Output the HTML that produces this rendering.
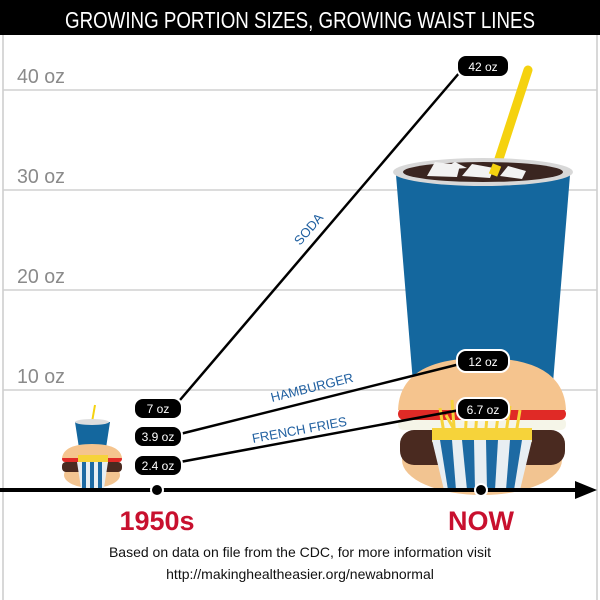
<!DOCTYPE html>
<html><head><style>html,body{margin:0;padding:0;background:#fff}svg{display:block}</style></head>
<body>
<svg width="600" height="600" viewBox="0 0 600 600" xmlns="http://www.w3.org/2000/svg" font-family="Liberation Sans, sans-serif">
<rect x="0" y="0" width="600" height="35" fill="#000"/>
<text x="300" y="28" text-anchor="middle" fill="#fff" font-size="23" textLength="470" lengthAdjust="spacingAndGlyphs">GROWING PORTION SIZES, GROWING WAIST LINES</text>
<line x1="3" y1="35" x2="3" y2="600" stroke="#ccc" stroke-width="1.5"/>
<line x1="597" y1="35" x2="597" y2="600" stroke="#ccc" stroke-width="1.5"/>
<g stroke="#d0d0d0" stroke-width="1.5">
<line x1="3" y1="90" x2="597" y2="90"/><line x1="3" y1="190" x2="597" y2="190"/>
<line x1="3" y1="290" x2="597" y2="290"/><line x1="3" y1="390" x2="597" y2="390"/>
</g>
<g fill="#8a8a8a" font-size="20">
<text x="17" y="83" textLength="48" lengthAdjust="spacingAndGlyphs">40 oz</text>
<text x="17" y="183" textLength="48" lengthAdjust="spacingAndGlyphs">30 oz</text>
<text x="17" y="283" textLength="48" lengthAdjust="spacingAndGlyphs">20 oz</text>
<text x="17" y="383" textLength="48" lengthAdjust="spacingAndGlyphs">10 oz</text>
</g>
<!-- big cup -->
<line x1="528" y1="70" x2="497" y2="165" stroke="#f5d20f" stroke-width="9" stroke-linecap="round"/>
<polygon points="396,175 570,175 552,395 414,395" fill="#14679e"/>
<ellipse cx="483" cy="172" rx="90" ry="14" fill="#d8d8d8"/>
<ellipse cx="483" cy="172" rx="80" ry="10" fill="#3a2520"/>
<path d="M427,176 l8,-14 l25,3 l-3,12z M462,176 l10,-12 l22,4 l-4,10z M500,176 l8,-10 l18,5 l-4,8z M440,170 l15,-8 l12,6z" fill="#f2f2f2"/>
<line x1="497" y1="165" x2="493" y2="175" stroke="#f5d20f" stroke-width="9"/>
<!-- burger -->
<ellipse cx="482" cy="460" rx="80" ry="35" fill="#f2c491"/>
<rect x="400" y="430" width="165" height="35" rx="14" fill="#4a2a20"/>
<rect x="398" y="418" width="168" height="12" rx="5" fill="#f5f5e8"/>
<rect x="398" y="408" width="168" height="12" rx="6" fill="#e02a26"/>
<path d="M398,410 Q400,358 482,358 Q564,358 566,410 Z" fill="#f5c48e"/>
<!-- fries -->
<g stroke="#f6d33a" stroke-width="3">
<line x1="445" y1="440" x2="440" y2="408"/><line x1="455" y1="440" x2="452" y2="400"/><line x1="465" y1="440" x2="467" y2="404"/>
<line x1="475" y1="440" x2="478" y2="398"/><line x1="485" y1="440" x2="488" y2="405"/><line x1="495" y1="440" x2="500" y2="400"/>
<line x1="505" y1="440" x2="510" y2="406"/><line x1="515" y1="440" x2="520" y2="410"/><line x1="460" y1="440" x2="446" y2="415"/>
</g>
<rect x="432" y="428" width="100" height="14" fill="#f6d33a"/>
<polygon points="432,440 532,440 520,490 444,490" fill="#e8eef2"/>
<g fill="#1d6aa3"><polygon points="440,440 452,440 456,490 448,490"/><polygon points="462,440 474,440 475,490 467,490"/><polygon points="486,440 498,440 495,490 487,490"/><polygon points="510,440 522,440 514,490 506,490"/></g>
<!-- small icons -->
<line x1="95" y1="405" x2="92" y2="422" stroke="#f5d20f" stroke-width="2"/>
<polygon points="75,422 110,422 106,448 79,448" fill="#14679e"/>
<ellipse cx="92" cy="422" rx="17" ry="3" fill="#ddd"/>
<ellipse cx="92" cy="475" rx="28" ry="13" fill="#f2c491"/>
<rect x="62" y="462" width="60" height="10" rx="4" fill="#4a2a20"/>
<rect x="62" y="456" width="60" height="6" rx="3" fill="#e02a26"/>
<path d="M62,458 Q64,444 92,444 Q120,444 122,458Z" fill="#f5c48e"/>
<rect x="78" y="455" width="30" height="8" fill="#f6d33a"/>
<polygon points="77,462 108,462 104,488 81,488" fill="#e8eef2"/>
<g fill="#1d6aa3"><rect x="82" y="462" width="4" height="26"/><rect x="90" y="462" width="4" height="26"/><rect x="98" y="462" width="4" height="26"/></g>
<!-- lines -->
<g stroke="#000" stroke-width="2.5">
<line x1="180" y1="400" x2="460" y2="72"/>
<line x1="180" y1="434" x2="460" y2="364"/>
<line x1="180" y1="462" x2="460" y2="410"/>
</g>
<g fill="#1f5fa0" font-size="13">
<text transform="translate(300,246) rotate(-49.5)">SODA</text>
<text transform="translate(272,402) rotate(-14)">HAMBURGER</text>
<text transform="translate(253,443) rotate(-10.5)">FRENCH FRIES</text>
</g>
<!-- labels -->
<g stroke="#fff" stroke-width="2" fill="#000">
<rect x="457" y="55" width="52" height="22" rx="9"/>
<rect x="457" y="350" width="52" height="22" rx="9"/>
<rect x="457" y="398" width="52" height="22" rx="9"/>
<rect x="134" y="398" width="48" height="21" rx="9"/>
<rect x="134" y="426" width="48" height="21" rx="9"/>
<rect x="134" y="455" width="48" height="21" rx="9"/>
</g>
<g fill="#fff" font-size="12" text-anchor="middle">
<text x="483" y="71">42 oz</text><text x="483" y="366">12 oz</text><text x="483" y="414">6.7 oz</text>
<text x="158" y="413">7 oz</text><text x="158" y="441">3.9 oz</text><text x="158" y="470">2.4 oz</text>
</g>
<!-- axis -->
<line x1="0" y1="490" x2="578" y2="490" stroke="#000" stroke-width="4"/>
<polygon points="575,481 597,490 575,499" fill="#000"/>
<circle cx="157" cy="490" r="6" fill="#000" stroke="#fff" stroke-width="2"/>
<circle cx="481" cy="490" r="6" fill="#000" stroke="#fff" stroke-width="2"/>
<g fill="#c8102e" font-size="27" font-weight="bold" text-anchor="middle">
<text x="157" y="530">1950s</text><text x="481" y="530">NOW</text>
</g>
<g fill="#111" font-size="14" text-anchor="middle">
<text x="300" y="557">Based on data on file from the CDC, for more information visit</text>
<text x="300" y="579">http://makinghealtheasier.org/newabnormal</text>
</g>
</svg>
</body></html>
